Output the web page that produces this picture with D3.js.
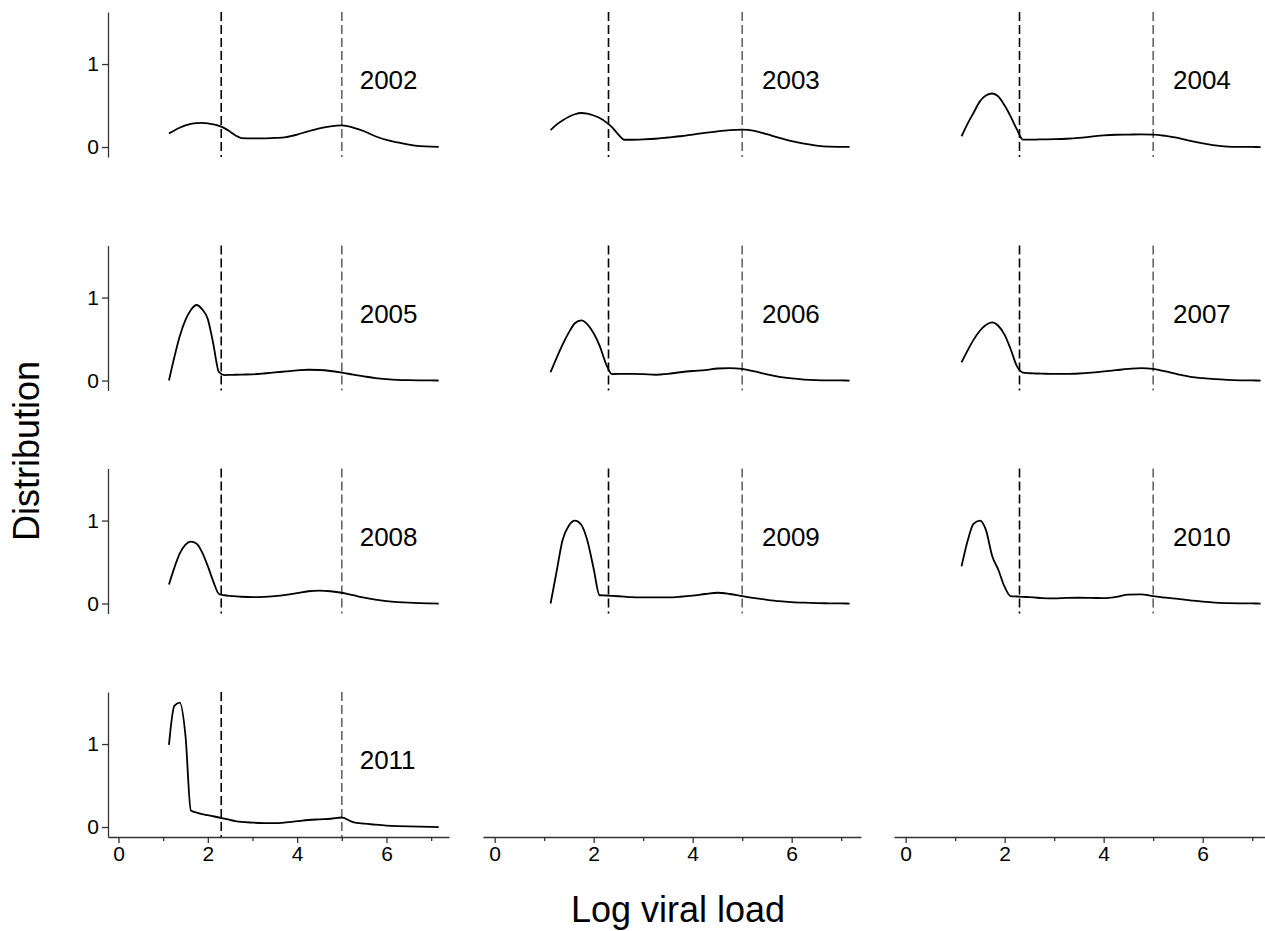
<!DOCTYPE html>
<html>
<head>
<meta charset="utf-8">
<script src="https://cdn.jsdelivr.net/npm/d3@7"></script>
<style>
  html, body { margin: 0; padding: 0; background: #fff; }
  svg { display: block; font-family: "Liberation Sans", Arial, sans-serif; }
  .tick text { font-size: 21px; font-family: "Liberation Sans", Arial, sans-serif; fill: #000; }
</style>
</head>
<body>
<svg id="chart" width="1265" height="931"></svg>
<script>
// ---- data ----
const years = ["2002", "2003", "2004", "2005", "2006", "2007", "2008", "2009", "2010", "2011"];
const logVL = [1.13, 1.25, 1.37, 1.5, 1.62, 1.75, 1.87, 2.0, 2.12, 2.25, 2.37, 2.5, 2.62, 2.75, 3.0, 3.25, 3.5, 3.75, 4.0, 4.25, 4.5, 4.75, 5.0, 5.25, 5.5, 5.75, 6.0, 6.25, 6.5, 6.75, 7.0, 7.17];
const dist2002 = [0.165, 0.2, 0.232, 0.26, 0.278, 0.288, 0.29, 0.285, 0.273, 0.255, 0.228, 0.185, 0.14, 0.108, 0.105, 0.105, 0.11, 0.12, 0.15, 0.19, 0.225, 0.25, 0.26, 0.235, 0.19, 0.13, 0.085, 0.055, 0.03, 0.012, 0.004, 0.002];
const dist2003 = [0.205, 0.27, 0.32, 0.365, 0.395, 0.41, 0.402, 0.38, 0.35, 0.3, 0.24, 0.15, 0.088, 0.088, 0.092, 0.1, 0.115, 0.13, 0.15, 0.17, 0.19, 0.205, 0.21, 0.195, 0.155, 0.11, 0.07, 0.04, 0.018, 0.005, 0.002, 0.001];
const dist2004 = [0.13, 0.28, 0.41, 0.55, 0.62, 0.645, 0.61, 0.5, 0.37, 0.21, 0.09, 0.09, 0.09, 0.092, 0.095, 0.1, 0.11, 0.125, 0.14, 0.148, 0.15, 0.152, 0.15, 0.135, 0.11, 0.075, 0.045, 0.02, 0.006, 0.002, 0.001, 0];
const dist2005 = [0, 0.28, 0.53, 0.73, 0.85, 0.91, 0.86, 0.74, 0.45, 0.1, 0.066, 0.068, 0.07, 0.072, 0.075, 0.085, 0.098, 0.11, 0.122, 0.13, 0.127, 0.115, 0.095, 0.072, 0.05, 0.03, 0.017, 0.008, 0.004, 0.002, 0.001, 0];
const dist2006 = [0.1, 0.27, 0.43, 0.58, 0.69, 0.725, 0.68, 0.57, 0.42, 0.2, 0.078, 0.08, 0.08, 0.08, 0.077, 0.07, 0.08, 0.1, 0.115, 0.125, 0.145, 0.15, 0.14, 0.11, 0.075, 0.045, 0.025, 0.012, 0.005, 0.002, 0.001, 0];
const dist2007 = [0.22, 0.36, 0.49, 0.6, 0.67, 0.7, 0.66, 0.55, 0.38, 0.17, 0.095, 0.088, 0.085, 0.083, 0.08, 0.08, 0.085, 0.095, 0.11, 0.125, 0.14, 0.15, 0.14, 0.11, 0.075, 0.045, 0.028, 0.016, 0.008, 0.003, 0.001, 0];
const dist2008 = [0.23, 0.43, 0.6, 0.71, 0.745, 0.72, 0.62, 0.45, 0.27, 0.115, 0.1, 0.092, 0.087, 0.082, 0.077, 0.08, 0.09, 0.105, 0.125, 0.148, 0.155, 0.148, 0.13, 0.1, 0.07, 0.047, 0.03, 0.018, 0.01, 0.005, 0.002, 0];
const dist2009 = [0, 0.38, 0.76, 0.94, 1.0, 0.95, 0.765, 0.42, 0.1, 0.097, 0.093, 0.088, 0.083, 0.078, 0.075, 0.075, 0.075, 0.082, 0.095, 0.115, 0.13, 0.115, 0.09, 0.065, 0.045, 0.028, 0.017, 0.01, 0.005, 0.003, 0.001, 0];
const dist2010 = [0.45, 0.75, 0.96, 1.0, 0.89, 0.57, 0.41, 0.2, 0.09, 0.085, 0.08, 0.077, 0.072, 0.066, 0.062, 0.068, 0.07, 0.068, 0.065, 0.08, 0.108, 0.11, 0.09, 0.07, 0.055, 0.038, 0.022, 0.01, 0.005, 0.002, 0.001, 0];
const dist2011 = [0.99, 1.46, 1.5, 1.1, 0.2, 0.175, 0.155, 0.143, 0.13, 0.115, 0.1, 0.085, 0.072, 0.062, 0.053, 0.047, 0.046, 0.055, 0.07, 0.085, 0.093, 0.1, 0.115, 0.06, 0.04, 0.028, 0.018, 0.012, 0.008, 0.005, 0.002, 0];
const thresholds = [2.3, 5.0];
const xTicksMajor = [0, 2, 4, 6];
const xTicksMinor = [1, 3, 5, 7];
const yTicks = [0, 1];

const seriesValues = [dist2002, dist2003, dist2004, dist2005, dist2006, dist2007, dist2008, dist2009, dist2010, dist2011];

// ---- layout ----
const cols = [[108, 449], [483, 861], [894, 1272]];
const rowTops = [12, 245.5, 468.5, 692];
const panelH = 145;
const xDomain = [-0.235, 7.4];
const yDomain = [-0.12, 1.627];
const thrColors = ["#000", "#666"];

const svg = d3.select("#chart");

function panelScales(col, row) {
  const x = d3.scaleLinear().domain(xDomain).range(cols[col]);
  const y = d3.scaleLinear().domain(yDomain).range([rowTops[row] + panelH, rowTops[row]]);
  return { x, y };
}

years.forEach((yr, i) => {
  const col = i % 3, row = Math.floor(i / 3);
  const { x, y } = panelScales(col, row);
  const g = svg.append("g");

  // threshold dashed lines
  thresholds.forEach((t, k) => {
    g.append("line")
      .attr("x1", x(t)).attr("x2", x(t))
      .attr("y1", y.range()[1]).attr("y2", y.range()[0])
      .attr("stroke", thrColors[k])
      .attr("stroke-width", 1.6)
      .attr("stroke-dasharray", "9,4");
  });

  // curve
  const pts = logVL.map((v, j) => [v, seriesValues[i][j]]);
  const line = d3.line().x(d => x(d[0])).y(d => y(d[1])).curve(d3.curveMonotoneX);
  g.append("path")
    .attr("d", line(pts))
    .attr("fill", "none")
    .attr("stroke", "#000")
    .attr("stroke-width", 1.8)
    .attr("stroke-linejoin", "round");

  // year label
  g.append("text")
    .attr("x", x(5.4)).attr("y", y(0.695))
    .attr("font-size", 26)
    .attr("fill", "#000")
    .text(yr);

  // y axis on first column
  if (col === 0) {
    const ya = g.append("g")
      .attr("transform", `translate(${cols[0][0]},0)`)
      .call(d3.axisLeft(y).tickValues(yTicks).tickFormat(d3.format("d")).tickSize(6).tickSizeOuter(0).tickPadding(3));
    ya.select(".domain").attr("stroke", "#333").attr("stroke-width", 1.3);
    ya.selectAll(".tick line").attr("stroke", "#333").attr("stroke-width", 1.3);
  }
});

// x axes on bottom row (all three columns)
cols.forEach((c, col) => {
  const { x } = panelScales(col, 3);
  const yPos = rowTops[3] + panelH;
  const xa = svg.append("g")
    .attr("transform", `translate(0,${yPos})`)
    .call(d3.axisBottom(x).tickValues(xTicksMajor).tickFormat(d3.format("d")).tickSize(6).tickSizeOuter(0).tickPadding(3));
  xa.select(".domain").attr("stroke", "#333").attr("stroke-width", 1.3);
  xa.selectAll(".tick line").attr("stroke", "#333").attr("stroke-width", 1.3);
  const xm = svg.append("g")
    .attr("transform", `translate(0,${yPos})`)
    .call(d3.axisBottom(x).tickValues(xTicksMinor).tickFormat("").tickSize(4).tickSizeOuter(0));
  xm.select(".domain").remove();
  xm.selectAll(".tick line").attr("stroke", "#333").attr("stroke-width", 1.3);
});

// axis titles
svg.append("text")
  .attr("x", 678).attr("y", 922)
  .attr("text-anchor", "middle")
  .attr("font-size", 36)
  .attr("fill", "#000")
  .text("Log viral load");

svg.append("text")
  .attr("transform", "translate(39,451) rotate(-90)")
  .attr("text-anchor", "middle")
  .attr("font-size", 36)
  .attr("fill", "#000")
  .text("Distribution");
</script>
</body>
</html>
